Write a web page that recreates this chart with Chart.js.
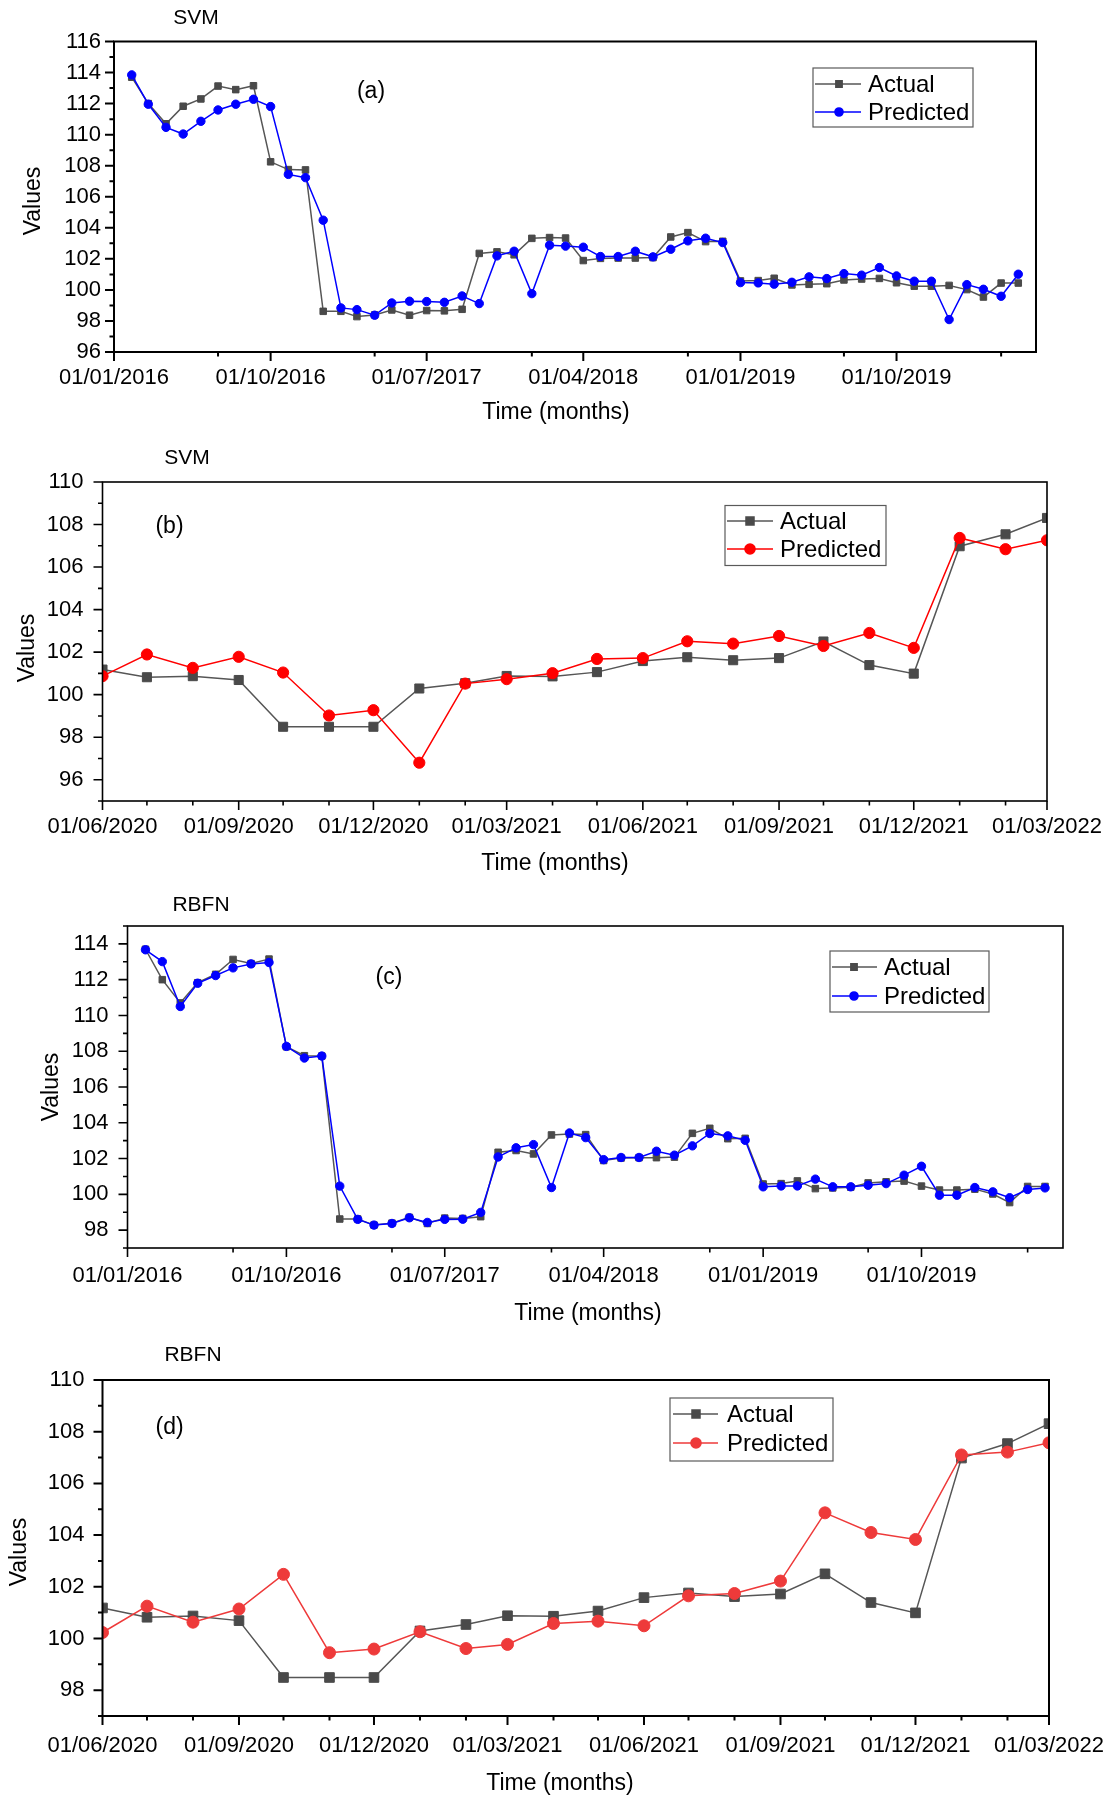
<!DOCTYPE html>
<html>
<head>
<meta charset="utf-8">
<script src="https://cdn.jsdelivr.net/npm/chart.js@4.4.1/dist/chart.umd.min.js"></script>
<style>
  html, body { margin: 0; padding: 0; background: #fff; }
  .panel { position: absolute; left: 0; width: 1115px; }
</style>
</head>
<body>
<div class="panel" style="top:0;height:440px"><canvas id="chartA"></canvas></div>
<div class="panel" style="top:440px;height:440px"><canvas id="chartB"></canvas></div>
<div class="panel" style="top:880px;height:450px"><canvas id="chartC"></canvas></div>
<div class="panel" style="top:1330px;height:468px"><canvas id="chartD"></canvas></div>
<script>
// ---------- data ----------
// Monthly observations, Feb 2016 - May 2020
const trainMonths = [
  '01/02/2016','01/03/2016','01/04/2016','01/05/2016','01/06/2016','01/07/2016','01/08/2016','01/09/2016','01/10/2016','01/11/2016','01/12/2016',
  '01/01/2017','01/02/2017','01/03/2017','01/04/2017','01/05/2017','01/06/2017','01/07/2017','01/08/2017','01/09/2017','01/10/2017','01/11/2017','01/12/2017',
  '01/01/2018','01/02/2018','01/03/2018','01/04/2018','01/05/2018','01/06/2018','01/07/2018','01/08/2018','01/09/2018','01/10/2018','01/11/2018','01/12/2018',
  '01/01/2019','01/02/2019','01/03/2019','01/04/2019','01/05/2019','01/06/2019','01/07/2019','01/08/2019','01/09/2019','01/10/2019','01/11/2019','01/12/2019',
  '01/01/2020','01/02/2020','01/03/2020','01/04/2020','01/05/2020'
];
const trainActual = [
  113.70, 112.00, 110.70, 111.83, 112.30, 113.13, 112.90, 113.15, 108.25, 107.75, 107.73,
  98.62, 98.62, 98.28, 98.39, 98.71, 98.37, 98.67, 98.65, 98.75, 102.35, 102.45, 102.26,
  103.32, 103.37, 103.34, 101.89, 102.03, 102.05, 102.05, 102.08, 103.41, 103.69, 103.11, 103.13,
  100.58, 100.60, 100.75, 100.32, 100.36, 100.40, 100.64, 100.70, 100.74, 100.46, 100.24, 100.24,
  100.29, 100.02, 99.54, 100.44, 100.44
];
const svmTrainPredicted = [
  113.85, 111.96, 110.47, 110.04, 110.86, 111.59, 111.96, 112.28, 111.81, 107.44, 107.23,
  104.49, 98.84, 98.73, 98.37, 99.16, 99.27, 99.25, 99.20, 99.61, 99.12, 102.19, 102.49,
  99.76, 102.88, 102.82, 102.75, 102.15, 102.15, 102.49, 102.13, 102.62, 103.16, 103.33, 103.05,
  100.47, 100.45, 100.37, 100.49, 100.84, 100.73, 101.05, 100.95, 101.44, 100.90, 100.56, 100.56,
  98.09, 100.34, 100.04, 99.59, 101.01
];
const rbfnTrainPredicted = [
  113.67, 113.01, 110.50, 111.80, 112.23, 112.66, 112.88, 112.96, 108.27, 107.62, 107.73,
  100.46, 98.60, 98.28, 98.37, 98.69, 98.43, 98.60, 98.61, 98.99, 102.09, 102.60, 102.78,
  100.38, 103.43, 103.17, 101.94, 102.06, 102.06, 102.41, 102.19, 102.71, 103.40, 103.27, 103.02,
  100.42, 100.47, 100.47, 100.85, 100.42, 100.42, 100.51, 100.60, 101.07, 101.57, 99.95, 99.95,
  100.38, 100.14, 99.81, 100.27, 100.36
];

// Monthly observations, Jun 2020 - Mar 2022
const testMonths = [
  '01/06/2020','01/07/2020','01/08/2020','01/09/2020','01/10/2020','01/11/2020','01/12/2020',
  '01/01/2021','01/02/2021','01/03/2021','01/04/2021','01/05/2021','01/06/2021','01/07/2021','01/08/2021','01/09/2021','01/10/2021','01/11/2021','01/12/2021',
  '01/01/2022','01/02/2022','01/03/2022'
];
const testActual = [
  101.18, 100.82, 100.87, 100.69, 98.49, 98.49, 98.49,
  100.29, 100.54, 100.88, 100.86, 101.06, 101.58, 101.76, 101.62, 101.72, 102.50, 101.39, 100.99,
  106.98, 107.54, 108.31
];
const svmTestPredicted = [
  100.87, 101.89, 101.26, 101.78, 101.04, 99.02, 99.27,
  96.80, 100.52, 100.73, 101.01, 101.68, 101.72, 102.51, 102.40, 102.76, 102.29, 102.90, 102.20,
  107.37, 106.84, 107.26
];
const rbfnTestPredicted = [
  100.23, 101.25, 100.63, 101.14, 102.48, 99.45, 99.59,
  100.26, 99.61, 99.77, 100.58, 100.67, 100.49, 101.65, 101.74, 102.22, 104.86, 104.10, 103.83,
  107.10, 107.21, 107.57
];

// Axis ticks
const trainTickLabels = ['01/01/2016','01/10/2016','01/07/2017','01/04/2018','01/01/2019','01/10/2019'];
const trainMinorTicks = ['01/07/2016','01/04/2017','01/01/2018','01/10/2018','01/07/2019','01/04/2020'];
const testTickLabels = ['01/06/2020','01/09/2020','01/12/2020','01/03/2021','01/06/2021','01/09/2021','01/12/2021','01/03/2022'];
const testMinorTicks = testMonths;
const yTicksA = [96, 98, 100, 102, 104, 106, 108, 110, 112, 114, 116];
const yTicksB = [96, 98, 100, 102, 104, 106, 108, 110];
const yTicksC = [98, 100, 102, 104, 106, 108, 110, 112, 114];
const yTicksD = [98, 100, 102, 104, 106, 108, 110];
const yMinorA = [97, 99, 101, 103, 105, 107, 109, 111, 113, 115];
const yMinorB = [95, 97, 99, 101, 103, 105, 107, 109];
const yMinorC = [97, 99, 101, 103, 105, 107, 109, 111, 113, 115];
const yMinorD = [97, 99, 101, 103, 105, 107, 109];

// ---------- helpers ----------
const FONT = '"Liberation Sans", Arial, Helvetica, sans-serif';
Chart.defaults.font.family = FONT;
Chart.defaults.color = '#000';

function toTime(s) {
  const [d, m, y] = s.split('/').map(Number);
  return Date.UTC(y, m - 1, d);
}
function points(dates, values) {
  return dates.map((d, i) => ({ x: toTime(d), y: values[i] }));
}

const ACTUAL_LINE = '#565656';
const ACTUAL_MARK = '#4a4a4a';

// Origin-style frame with outward major/minor ticks on bottom and left
const frameTicks = {
  id: 'frameTicks',
  afterDatasetsDraw(chart, args, o) {
    const { ctx, chartArea: a, scales: { x, y } } = chart;
    ctx.save();
    ctx.strokeStyle = '#000';
    ctx.lineWidth = o.frameWidth;
    ctx.strokeRect(a.left, a.top, a.right - a.left, a.bottom - a.top);
    ctx.lineWidth = o.tickWidth;
    ctx.beginPath();
    o.xMinor.forEach(v => { const p = x.getPixelForValue(v); ctx.moveTo(p, a.bottom); ctx.lineTo(p, a.bottom + 4.5); });
    o.xMajor.forEach(v => { const p = x.getPixelForValue(v); ctx.moveTo(p, a.bottom); ctx.lineTo(p, a.bottom + 9); });
    o.yMinor.forEach(v => { const p = y.getPixelForValue(v); ctx.moveTo(a.left, p); ctx.lineTo(a.left - 4.5, p); });
    o.yMajor.forEach(v => { const p = y.getPixelForValue(v); ctx.moveTo(a.left, p); ctx.lineTo(a.left - 9, p); });
    ctx.stroke();
    ctx.restore();
  }
};

// Panel captions, axis titles and legend box
const panelText = {
  id: 'panelText',
  afterDraw(chart, args, o) {
    const ctx = chart.ctx;
    ctx.save();
    ctx.fillStyle = '#000';
    ctx.textAlign = 'center';
    ctx.textBaseline = 'middle';
    ctx.font = '21px ' + FONT;
    ctx.fillText(o.title[0], o.title[1], o.title[2]);
    ctx.font = '23px ' + FONT;
    ctx.fillText(o.letter[0], o.letter[1], o.letter[2]);
    ctx.font = '23px ' + FONT;
    ctx.fillText('Time (months)', o.xTitle[0], o.xTitle[1]);
    ctx.save();
    ctx.translate(o.yTitle[0], o.yTitle[1]);
    ctx.rotate(-Math.PI / 2);
    ctx.fillText('Values', 0, 0);
    ctx.restore();

    const L = o.legend;
    ctx.fillStyle = '#fff';
    ctx.fillRect(L.x, L.y, L.w, L.h);
    ctx.strokeStyle = '#5a5a5a';
    ctx.lineWidth = 1.2;
    ctx.strokeRect(L.x, L.y, L.w, L.h);
    chart.data.datasets.forEach((ds, i) => {
      const ry = L.rows[i];
      ctx.strokeStyle = ds.borderColor;
      ctx.lineWidth = 1.6;
      ctx.beginPath();
      ctx.moveTo(L.line[0], ry);
      ctx.lineTo(L.line[1], ry);
      ctx.stroke();
      ctx.fillStyle = ds.pointBackgroundColor;
      ctx.strokeStyle = ds.pointBackgroundColor;
      Chart.helpers.drawPoint(ctx, { pointStyle: ds.pointStyle, radius: L.marker[i], rotation: 0, borderWidth: 1 }, L.markX, ry);
      ctx.fillStyle = '#000';
      ctx.textAlign = 'left';
      ctx.font = '24px ' + FONT;
      ctx.fillText(ds.label, L.textX, ry + 1);
    });
    ctx.restore();
  }
};

function makePanel(id, c) {
  const majorTimes = c.xTicks.map(toTime);
  new Chart(document.getElementById(id), {
    type: 'line',
    data: {
      datasets: [
        {
          label: 'Actual',
          data: points(c.months, c.actual),
          borderColor: ACTUAL_LINE,
          borderWidth: 1.5,
          pointStyle: 'rect',
          pointRadius: c.rectR,
          pointBackgroundColor: ACTUAL_MARK,
          pointBorderColor: ACTUAL_MARK,
          pointBorderWidth: 1,
          tension: 0,
          clip: 0,
          order: 2
        },
        {
          label: 'Predicted',
          data: points(c.months, c.predicted),
          borderColor: c.color,
          borderWidth: 1.5,
          pointStyle: 'circle',
          pointRadius: c.circR,
          pointBackgroundColor: c.color,
          pointBorderColor: c.color,
          pointBorderWidth: 1,
          tension: 0,
          clip: 0,
          order: 1
        }
      ]
    },
    options: {
      responsive: true,
      maintainAspectRatio: false,
      animation: false,
      events: [],
      layout: { padding: c.padding },
      plugins: {
        legend: { display: false },
        tooltip: { enabled: false },
        frameTicks: {
          frameWidth: c.frameWidth, tickWidth: c.frameWidth,
          xMajor: majorTimes, xMinor: c.xMinor.map(toTime),
          yMajor: c.yTicks, yMinor: c.yMinor
        },
        panelText: c.text
      },
      scales: {
        x: {
          type: 'linear',
          min: toTime(c.xRange[0]),
          max: toTime(c.xRange[1]),
          grid: { display: false },
          border: { display: false },
          ticks: {
            padding: c.xPad, maxRotation: 0, minRotation: 0, autoSkip: false,
            font: { size: 22 },
            callback: (v, i) => c.xTicks[i]
          },
          afterBuildTicks: s => { s.ticks = majorTimes.map(v => ({ value: v })); },
          afterFit: s => { s.height = 60; }
        },
        y: {
          min: c.yRange[0],
          max: c.yRange[1],
          grid: { display: false },
          border: { display: false },
          ticks: { padding: c.yPad, font: { size: 22 }, callback: v => String(v) },
          afterBuildTicks: s => { s.ticks = c.yTicks.map(v => ({ value: v })); },
          afterFit: s => { s.width = 80; }
        }
      }
    },
    plugins: [frameTicks, panelText]
  });
}

// (a) SVM, 2016-2020
makePanel('chartA', {
  months: trainMonths, actual: trainActual, predicted: svmTrainPredicted,
  color: '#0000ff', rectR: 4.6, circR: 4.2, frameWidth: 2, yPad: 5, xPad: 4.5,
  xRange: ['01/01/2016', '01/06/2020'], xTicks: trainTickLabels, xMinor: trainMinorTicks,
  yRange: [96, 116], yTicks: yTicksA, yMinor: yMinorA,
  padding: { left: 34, right: 79, top: 41.5, bottom: 28 },
  text: {
    title: ['SVM', 196, 18], letter: ['(a)', 371, 92],
    xTitle: [556, 413], yTitle: [34, 201],
    legend: { x: 813, y: 68, w: 160, h: 59, rows: [84, 112], line: [815, 861], markX: 839, marker: [4.4, 4], textX: 868 }
  }
});

// (b) SVM, 2020-2022
makePanel('chartB', {
  months: testMonths, actual: testActual, predicted: svmTestPredicted,
  color: '#ff0000', rectR: 6.4, circR: 5.6, frameWidth: 1.6, yPad: 11, xPad: 4.5,
  xRange: ['01/06/2020', '01/03/2022'], xTicks: testTickLabels, xMinor: testMinorTicks,
  yRange: [95, 110], yTicks: yTicksB, yMinor: yMinorB,
  padding: { left: 22.5, right: 68, top: 42, bottom: 19 },
  text: {
    title: ['SVM', 187, 18], letter: ['(b)', 169.5, 87],
    xTitle: [555, 424], yTitle: [28, 208],
    legend: { x: 725, y: 65.5, w: 161, h: 60, rows: [81, 109], line: [727, 773], markX: 750, marker: [5.6, 5], textX: 780 }
  }
});

// (c) RBFN, 2016-2020
makePanel('chartC', {
  months: trainMonths, actual: trainActual, predicted: rbfnTrainPredicted,
  color: '#0000ff', rectR: 4.6, circR: 4.2, frameWidth: 1.6, yPad: 11, xPad: 6.5,
  xRange: ['01/01/2016', '01/06/2020'], xTicks: trainTickLabels, xMinor: trainMinorTicks,
  yRange: [97, 115], yTicks: yTicksC, yMinor: yMinorC,
  padding: { left: 47.5, right: 52, top: 46, bottom: 22 },
  text: {
    title: ['RBFN', 201, 25], letter: ['(c)', 389, 98],
    xTitle: [588, 434], yTitle: [52, 207],
    legend: { x: 830, y: 71, w: 159, h: 61, rows: [87, 116], line: [832, 877], markX: 854, marker: [4.4, 4], textX: 884 }
  }
});

// (d) RBFN, 2020-2022
makePanel('chartD', {
  months: testMonths, actual: testActual, predicted: rbfnTestPredicted,
  color: '#ee3a3a', rectR: 6.8, circR: 6, frameWidth: 2, yPad: 10, xPad: 8.5,
  xRange: ['01/06/2020', '01/03/2022'], xTicks: testTickLabels, xMinor: testMinorTicks,
  yRange: [97, 110], yTicks: yTicksD, yMinor: yMinorD,
  padding: { left: 22.5, right: 66, top: 50, bottom: 22 },
  text: {
    title: ['RBFN', 193, 25], letter: ['(d)', 169.6, 98],
    xTitle: [560, 454], yTitle: [20, 222],
    legend: { x: 670, y: 68, w: 163, h: 63, rows: [84, 113], line: [673, 718], markX: 696, marker: [5.6, 5], textX: 727 }
  }
});
</script>
</body>
</html>
